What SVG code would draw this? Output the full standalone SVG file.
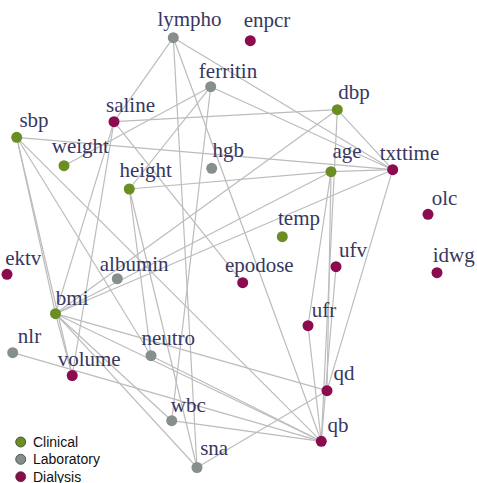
<svg xmlns="http://www.w3.org/2000/svg" width="477" height="483" viewBox="0 0 477 483">
<style>
.e{stroke:#bcbcbc;stroke-width:1.2;fill:none}
.c{fill:#6b8e23}
.l{fill:#868e8e}
.d{fill:#8c0a4e}
.t{font-family:"Liberation Serif","Times New Roman",serif;font-size:21px;fill:#37375f;text-anchor:middle}
.lg{font-family:"Liberation Sans",Arial,sans-serif;font-size:14px;fill:#111}
.lc{stroke:#3a3a3a;stroke-width:0.8}
</style>
<rect width="477" height="483" fill="#fff"/>
<g id="edges">
<line class="e" x1="173.3" y1="37.7" x2="114" y2="121.7"/>
<line class="e" x1="173.3" y1="37.7" x2="392.7" y2="169.7"/>
<line class="e" x1="173.3" y1="37.7" x2="197" y2="467.5"/>
<line class="e" x1="173.3" y1="37.7" x2="321.3" y2="441.3"/>
<line class="e" x1="210.7" y1="86.7" x2="392.7" y2="169.7"/>
<line class="e" x1="210.7" y1="86.7" x2="64" y2="165.7"/>
<line class="e" x1="210.7" y1="86.7" x2="129.3" y2="189"/>
<line class="e" x1="210.7" y1="86.7" x2="171.7" y2="420.7"/>
<line class="e" x1="114" y1="121.7" x2="337.3" y2="109.7"/>
<line class="e" x1="114" y1="121.7" x2="55.5" y2="313.7"/>
<line class="e" x1="114" y1="121.7" x2="72.2" y2="375.5"/>
<line class="e" x1="114" y1="121.7" x2="242.7" y2="282.7"/>
<line class="e" x1="16.7" y1="137.3" x2="392.7" y2="169.7"/>
<line class="e" x1="16.7" y1="137.3" x2="55.5" y2="313.7"/>
<line class="e" x1="16.7" y1="137.3" x2="72.2" y2="375.5"/>
<line class="e" x1="16.7" y1="137.3" x2="151" y2="355.7"/>
<line class="e" x1="16.7" y1="137.3" x2="321.3" y2="441.3"/>
<line class="e" x1="337.3" y1="109.7" x2="392.7" y2="169.7"/>
<line class="e" x1="337.3" y1="109.7" x2="55.5" y2="313.7"/>
<line class="e" x1="337.3" y1="109.7" x2="321.3" y2="441.3"/>
<line class="e" x1="129.3" y1="189" x2="331" y2="171.7"/>
<line class="e" x1="129.3" y1="189" x2="151" y2="355.7"/>
<line class="e" x1="129.3" y1="189" x2="197" y2="467.5"/>
<line class="e" x1="331" y1="171.7" x2="392.7" y2="169.7"/>
<line class="e" x1="331" y1="171.7" x2="55.5" y2="313.7"/>
<line class="e" x1="331" y1="171.7" x2="308" y2="325.7"/>
<line class="e" x1="331" y1="171.7" x2="327" y2="390.7"/>
<line class="e" x1="392.7" y1="169.7" x2="55.5" y2="313.7"/>
<line class="e" x1="392.7" y1="169.7" x2="327" y2="390.7"/>
<line class="e" x1="336" y1="266.7" x2="321.3" y2="441.3"/>
<line class="e" x1="308" y1="325.7" x2="321.3" y2="441.3"/>
<line class="e" x1="55.5" y1="313.7" x2="72.2" y2="375.5"/>
<line class="e" x1="55.5" y1="313.7" x2="327" y2="390.7"/>
<line class="e" x1="55.5" y1="313.7" x2="321.3" y2="441.3"/>
<line class="e" x1="55.5" y1="313.7" x2="171.7" y2="420.7"/>
<line class="e" x1="55.5" y1="313.7" x2="197" y2="467.5"/>
<line class="e" x1="151" y1="355.7" x2="321.3" y2="441.3"/>
<line class="e" x1="12.7" y1="352.7" x2="321.3" y2="441.3"/>
<line class="e" x1="171.7" y1="420.7" x2="321.3" y2="441.3"/>
<line class="e" x1="197" y1="467.5" x2="327" y2="390.7"/>
</g>
<g id="node-lympho"><circle class="l" cx="173.3" cy="37.7" r="5.5"/><text class="t" x="189.5" y="26">lympho</text></g>
<g id="node-enpcr"><circle class="d" cx="250.3" cy="40.7" r="5.5"/><text class="t" x="267" y="27">enpcr</text></g>
<g id="node-ferritin"><circle class="l" cx="210.7" cy="86.7" r="5.5"/><text class="t" x="228" y="78">ferritin</text></g>
<g id="node-dbp"><circle class="c" cx="337.3" cy="109.7" r="5.5"/><text class="t" x="354" y="99">dbp</text></g>
<g id="node-saline"><circle class="d" cx="114" cy="121.7" r="5.5"/><text class="t" x="130.5" y="111.5">saline</text></g>
<g id="node-sbp"><circle class="c" cx="16.7" cy="137.3" r="5.5"/><text class="t" x="34" y="126.5">sbp</text></g>
<g id="node-weight"><circle class="c" cx="64" cy="165.7" r="5.5"/><text class="t" x="80.3" y="153.3">weight</text></g>
<g id="node-hgb"><circle class="l" cx="211.7" cy="168.3" r="5.5"/><text class="t" x="228.3" y="156.7">hgb</text></g>
<g id="node-height"><circle class="c" cx="129.3" cy="189" r="5.5"/><text class="t" x="145.7" y="176.7">height</text></g>
<g id="node-age"><circle class="c" cx="331" cy="171.7" r="5.5"/><text class="t" x="347" y="158">age</text></g>
<g id="node-txttime"><circle class="d" cx="392.7" cy="169.7" r="5.5"/><text class="t" x="409.5" y="160">txttime</text></g>
<g id="node-olc"><circle class="d" cx="428" cy="214.3" r="5.5"/><text class="t" x="444.5" y="205">olc</text></g>
<g id="node-temp"><circle class="c" cx="282.3" cy="236.7" r="5.5"/><text class="t" x="299" y="225">temp</text></g>
<g id="node-ufv"><circle class="d" cx="336" cy="266.7" r="5.5"/><text class="t" x="353" y="256.7">ufv</text></g>
<g id="node-epodose"><circle class="d" cx="242.7" cy="282.7" r="5.5"/><text class="t" x="259.3" y="271.7">epodose</text></g>
<g id="node-idwg"><circle class="d" cx="437" cy="272.7" r="5.5"/><text class="t" x="453.7" y="261.7">idwg</text></g>
<g id="node-ektv"><circle class="d" cx="7" cy="274.3" r="5.5"/><text class="t" x="23.3" y="265">ektv</text></g>
<g id="node-albumin"><circle class="l" cx="117.3" cy="278.7" r="5.5"/><text class="t" x="134.2" y="270.7">albumin</text></g>
<g id="node-bmi"><circle class="c" cx="55.5" cy="313.7" r="5.5"/><text class="t" x="72.2" y="305">bmi</text></g>
<g id="node-ufr"><circle class="d" cx="308" cy="325.7" r="5.5"/><text class="t" x="324" y="316.7">ufr</text></g>
<g id="node-nlr"><circle class="l" cx="12.7" cy="352.7" r="5.5"/><text class="t" x="29.5" y="342.7">nlr</text></g>
<g id="node-neutro"><circle class="l" cx="151" cy="355.7" r="5.5"/><text class="t" x="168.3" y="345">neutro</text></g>
<g id="node-volume"><circle class="d" cx="72.2" cy="375.5" r="5.5"/><text class="t" x="89.2" y="366">volume</text></g>
<g id="node-qd"><circle class="d" cx="327" cy="390.7" r="5.5"/><text class="t" x="344" y="380">qd</text></g>
<g id="node-wbc"><circle class="l" cx="171.7" cy="420.7" r="5.5"/><text class="t" x="188.3" y="411.7">wbc</text></g>
<g id="node-qb"><circle class="d" cx="321.3" cy="441.3" r="5.5"/><text class="t" x="338" y="431.7">qb</text></g>
<g id="node-sna"><circle class="l" cx="197" cy="467.5" r="5.5"/><text class="t" x="214.2" y="455">sna</text></g>
<g id="legend">
<circle class="c lc" cx="20.7" cy="442" r="5"/><text class="lg" x="33" y="446.7">Clinical</text>
<circle class="l lc" cx="20.7" cy="459.3" r="5"/><text class="lg" x="33" y="464">Laboratory</text>
<circle class="d lc" cx="20.7" cy="476.7" r="5"/><text class="lg" x="33" y="481.5">Dialysis</text>
</g>
</svg>
